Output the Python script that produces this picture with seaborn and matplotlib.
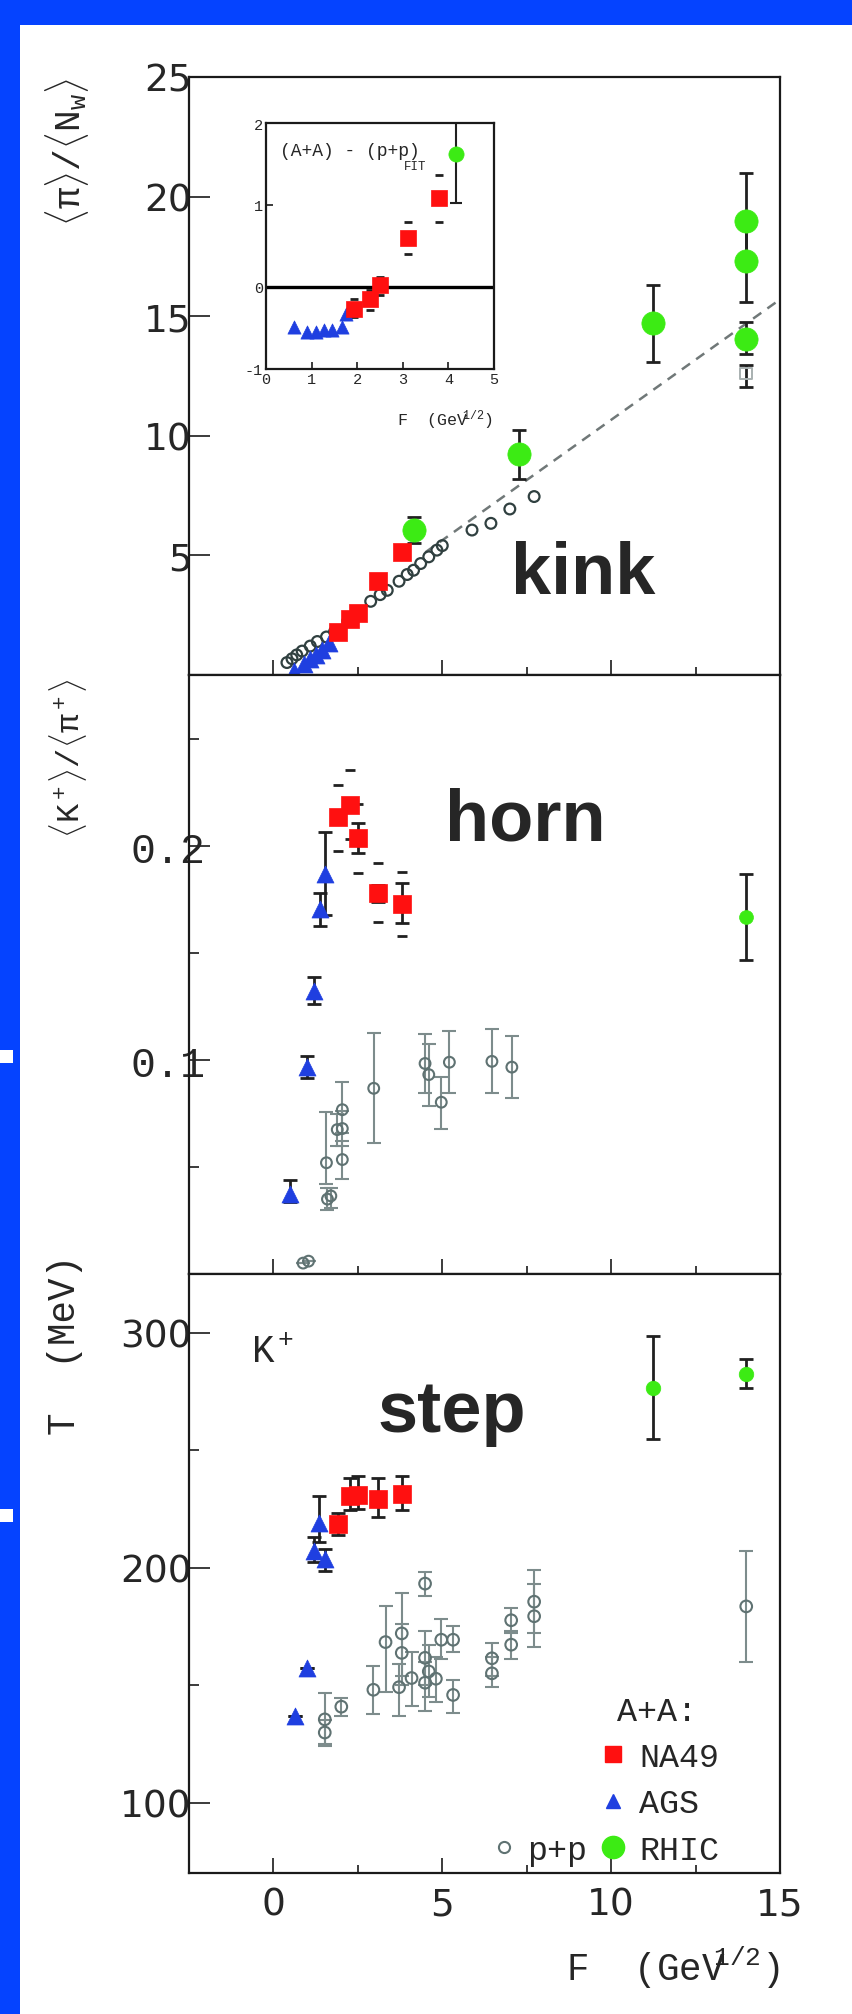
import numpy as np
import pandas as pd
import matplotlib
matplotlib.use("Agg")
import matplotlib.pyplot as plt
import seaborn as sns
from matplotlib.lines import Line2D
from matplotlib.patches import Rectangle

# ---------------- data ----------------
# top panel: <pi>/<N_w>
na49_F = [1.92, 2.28, 2.49, 3.11, 3.80]
na49_pi = [1.81, 2.33, 2.61, 3.92, 5.13]

ags_pi_F = [0.62, 0.91, 1.09, 1.27, 1.45, 1.66]
ags_pi = [0.18, 0.45, 0.65, 0.85, 1.05, 1.35]

rhic_pi_F = [4.15, 7.28, 11.23, 14.0, 14.0, 14.0]
rhic_pi = [6.06, 9.23, 14.7, 19.0, 17.3, 14.05]
rhic_pi_lo = [5.5, 8.2, 13.1, 17.2, 15.6, 13.4]
rhic_pi_hi = [6.62, 10.26, 16.29, 21.0, 19.1, 14.75]

other_pi_F = [14.0]
other_pi = [12.6]
other_pi_lo = [12.03]
other_pi_hi = [12.97]

pp_pi_F = [0.40, 0.55, 0.69, 0.85, 1.09, 1.30, 1.57, 1.81, 2.2, 2.5, 2.88, 3.16,
           3.37, 3.72, 3.96, 4.15, 4.36, 4.60, 4.84, 5.00, 5.88, 6.44, 7.00, 7.72]
pp_pi = [0.52, 0.68, 0.84, 1.00, 1.21, 1.40, 1.59, 1.81, 2.25, 2.6, 3.08, 3.36,
         3.54, 3.92, 4.20, 4.38, 4.66, 4.94, 5.22, 5.41, 6.06, 6.34, 6.94, 7.46]

fit_F = [4.5, 15.0]
fit_pi = [5.13, 15.7]

# inset: (A+A) - (p+p)_FIT
ins_ags_F = [0.62, 0.91, 1.09, 1.27, 1.45, 1.66, 1.75]
ins_ags = [-0.49, -0.55, -0.55, -0.53, -0.52, -0.49, -0.33]
ins_na49 = [-0.27, -0.15, 0.02, 0.60, 1.09]
ins_na49_sys_lo = [-0.36, -0.28, -0.10, 0.40, 0.79]
ins_na49_sys_hi = [-0.15, -0.04, 0.12, 0.79, 1.36]
ins_rhic_F = [4.16]
ins_rhic = [1.62]
ins_rhic_lo = [1.02]
ins_rhic_hi = [2.2]

# middle panel: <K+>/<pi+>
na49_k = [0.2135, 0.219, 0.2039, 0.178, 0.173]
na49_k_lo = [0.2105, 0.216, 0.197, 0.174, 0.164]
na49_k_hi = [0.2165, 0.222, 0.211, 0.182, 0.183]
na49_k_sys_lo = [0.1977, 0.2035, 0.1876, 0.1644, 0.158]
na49_k_sys_hi = [0.2286, 0.2354, 0.2199, 0.192, 0.188]

ags_k_F = [0.5, 1.0, 1.2, 1.37, 1.53]
ags_k = [0.0375, 0.0967, 0.1323, 0.1706, 0.187]
ags_k_lo = [0.0336, 0.0917, 0.1261, 0.1629, 0.168]
ags_k_hi = [0.0439, 0.1019, 0.1387, 0.1783, 0.2064]

rhic_k_F = [14.0]
rhic_k = [0.1667]
rhic_k_lo = [0.147]
rhic_k_hi = [0.187]

pp_k_F = [0.88, 1.04, 1.57, 1.60, 1.70, 1.89, 2.04, 2.04, 2.04, 2.97,
          4.49, 4.60, 4.97, 5.21, 6.47, 7.06]
pp_k = [0.0051, 0.0060, 0.052, 0.035, 0.0365, 0.0675, 0.0768, 0.068, 0.0535, 0.0868,
        0.0984, 0.0932, 0.0803, 0.099, 0.0994, 0.0967]
pp_k_lo = [0.0051, 0.0060, 0.042, 0.030, 0.031, 0.060, 0.066, 0.060, 0.0445, 0.0613,
           0.0846, 0.0785, 0.0679, 0.0845, 0.0845, 0.0824]
pp_k_hi = [0.0051, 0.0060, 0.0755, 0.040, 0.040, 0.075, 0.0899, 0.076, 0.062, 0.1126,
           0.1123, 0.1074, 0.0923, 0.1135, 0.1145, 0.1112]

# bottom panel: T (MeV)
na49_T = [218.6, 230.7, 231.1, 229.2, 231.3]
na49_T_lo = [214.0, 224.5, 225.0, 221.7, 224.5]
na49_T_hi = [223.4, 238.0, 239.0, 238.0, 239.0]

ags_T_F = [0.65, 1.0, 1.2, 1.36, 1.53]
ags_T = [137.0, 157.2, 207.2, 219.2, 203.6]
ags_T_lo = [137.0, 157.2, 202.6, 211.0, 198.4]
ags_T_hi = [137.0, 157.2, 213.0, 230.7, 207.8]

rhic_T_F = [11.23, 14.0]
rhic_T = [276.5, 282.3]
rhic_T_lo = [254.6, 276.5]
rhic_T_hi = [298.8, 289.0]

pp_T_F = [1.52, 1.52, 2.01, 2.96, 3.32, 3.72, 3.80, 3.80, 4.09, 4.49, 4.49, 4.49,
          4.60, 4.81, 4.97, 5.32, 5.32, 6.47, 6.47, 7.04, 7.04, 7.72, 7.72, 14.0]
pp_T = [135.4, 129.8, 140.8, 148.0, 168.3, 149.1, 172.0, 163.7, 153.0, 193.2, 161.6, 151.0,
        155.8, 152.7, 169.3, 169.3, 145.8, 161.4, 155.0, 177.6, 167.2, 185.5, 179.3, 183.5]
pp_T_lo = [125.0, 124.0, 137.0, 137.5, 147.0, 137.0, 154.0, 150.0, 141.0, 188.0, 150.0, 139.0,
           145.0, 143.0, 161.0, 164.0, 138.0, 154.0, 149.0, 172.0, 161.0, 172.0, 166.0, 160.0]
pp_T_hi = [146.5, 135.0, 144.5, 158.0, 183.5, 159.0, 189.0, 176.0, 164.0, 198.0, 173.0, 160.0,
           167.0, 162.0, 178.0, 175.0, 152.0, 168.0, 162.0, 183.0, 173.0, 199.0, 193.0, 207.2]

# ---------------- style ----------------
sns.set_theme(style="white")
plt.rcParams["font.family"] = ["DejaVu Sans"]
plt.rcParams["mathtext.fontset"] = "custom"
plt.rcParams["mathtext.rm"] = "Liberation Mono"
plt.rcParams["mathtext.it"] = "Liberation Mono"
plt.rcParams["mathtext.bf"] = "Liberation Mono:bold"

MONO = "Liberation Mono"
RED = "#ff1010"
BLUE = "#1f3fe0"
GREEN = "#3ceb14"
PP_EDGE = "#5f7272"
PP_ERR = "#7d8c8c"
BORDER = "#0543ff"
SPINE = "#1a1a1a"

W, H = 852, 2015
fig = plt.figure(figsize=(W / 100, H / 100), dpi=100, facecolor=BORDER)
fig.add_artist(Rectangle((20 / W, 0), 1 - 20 / W, 1 - 26 / H, transform=fig.transFigure,
                         facecolor="white", edgecolor="none", zorder=-5))
for ym in (1064, 1523):
    fig.add_artist(Rectangle((0, 1 - ym / H), 13 / W, 13 / H, transform=fig.transFigure,
                             facecolor="white", edgecolor="none", zorder=-4))

L, AW = 189 / W, 591 / W
ax1 = fig.add_axes([L, 1 - 676 / H, AW, 598 / H])
ax2 = fig.add_axes([L, 1 - 1275 / H, AW, 599 / H])
ax3 = fig.add_axes([L, 1 - 1874 / H, AW, 599 / H])


def errs(ax, x, y, lo, hi, color, lw=1.8, cap=5, z=2):
    y = np.asarray(y, float)
    yerr = [y - np.asarray(lo, float), np.asarray(hi, float) - y]
    ax.errorbar(x, y, yerr=yerr, fmt="none", ecolor=color, elinewidth=lw,
                capsize=cap, capthick=lw, zorder=z)


def points(ax, x, y, marker, color, size, open_=False, lw=1.5, z=3):
    df = pd.DataFrame({"F": x, "v": y})
    if open_:
        sns.scatterplot(data=df, x="F", y="v", ax=ax, marker=marker, s=size,
                        facecolor="none", edgecolor=color, linewidth=lw, legend=False, zorder=z)
    else:
        sns.scatterplot(data=df, x="F", y="v", ax=ax, marker=marker, s=size,
                        color=color, edgecolor=color, linewidth=0.5, legend=False, zorder=z)


for ax in (ax1, ax2, ax3):
    ax.set_xlim(-2.5, 15)
    ax.set_xticks([0, 5, 10, 15])
    ax.set_xticks([2.5, 7.5, 12.5], minor=True)
    for sp in ax.spines.values():
        sp.set_linewidth(1.6)
        sp.set_color(SPINE)
    ax.tick_params(which="both", direction="in", top=False, right=False,
                   left=True, bottom=True, color=SPINE)
    ax.tick_params(axis="x", which="major", length=11, width=1.2, pad=10, labelsize=27)
    ax.tick_params(axis="x", which="minor", length=6, width=1.2)
    ax.tick_params(axis="y", which="major", length=15, width=1.2, pad=-2, labelsize=27)
    ax.tick_params(axis="y", which="minor", length=7.5, width=1.2)
    ax.set_xlabel("")
    ax.set_ylabel("")
ax1.tick_params(axis="x", labelbottom=False)
ax2.tick_params(axis="x", labelbottom=False)

# ---------------- top panel ----------------
ax1.set_ylim(0, 25)
ax1.set_yticks([5, 10, 15, 20, 25])
sns.lineplot(x=fit_F, y=fit_pi, ax=ax1, color="#707878", linestyle=(0, (4, 3)),
             linewidth=1.8, zorder=1)
points(ax1, pp_pi_F, pp_pi, "o", "#304040", 60, open_=True, lw=1.6)
errs(ax1, rhic_pi_F, rhic_pi, rhic_pi_lo, rhic_pi_hi, "#202020", lw=2)
errs(ax1, other_pi_F, other_pi, other_pi_lo, other_pi_hi, "#202020", lw=2)
points(ax1, other_pi_F, other_pi, "s", "#a8b0b0", 70, open_=True, lw=1.4)
points(ax1, ags_pi_F, ags_pi, "^", BLUE, 150)
points(ax1, na49_F, na49_pi, "s", RED, 170)
points(ax1, rhic_pi_F, rhic_pi, "o", GREEN, 280, z=4)
ax1.text(7.04, 3.43, "kink", fontsize=52, fontweight="bold", family="Liberation Sans",
         ha="left", va="baseline")
ax1.set_ylabel(r"$\langle\pi\rangle/\langle N_w\rangle$", fontsize=26, loc="top")
ax1.yaxis.set_label_coords(-0.165, 1.0)

# inset
axi = fig.add_axes([266 / W, 1 - 370 / H, 228 / W, 246 / H])
axi.set_xlim(0, 5)
axi.set_ylim(-1, 2)
axi.set_xticks([0, 1, 2, 3, 4, 5])
axi.set_yticks([-1, 0, 1, 2])
axi.set_yticklabels(["-1", "0", "1", "2"])
for sp in axi.spines.values():
    sp.set_linewidth(1.6)
    sp.set_color(SPINE)
axi.tick_params(which="both", direction="in", top=False, right=False, left=True,
                bottom=True, length=5, width=1.2, color=SPINE, labelsize=11, pad=2)
for lab in axi.get_xticklabels() + axi.get_yticklabels():
    lab.set_family(MONO)
axi.axhline(0, color="black", linewidth=2.4, zorder=1)
errs(axi, ins_rhic_F, ins_rhic, ins_rhic_lo, ins_rhic_hi, "#202020", lw=1.5, cap=4)
axi.scatter(na49_F, ins_na49_sys_lo, marker="_", s=40, color="#202020", linewidths=2, zorder=2)
axi.scatter(na49_F, ins_na49_sys_hi, marker="_", s=40, color="#202020", linewidths=2, zorder=2)
points(axi, ins_ags_F, ins_ags, "^", BLUE, 90)
points(axi, na49_F, ins_na49, "s", RED, 120)
points(axi, ins_rhic_F, ins_rhic, "o", GREEN, 120)
axi.set_xlabel("")
axi.set_ylabel("")
axi.text(0.3, 1.66, "(A+A) - (p+p)", fontsize=13, family=MONO, ha="left", va="center")
axi.text(3.03, 1.48, "FIT", fontsize=9, family=MONO, ha="left", va="center")
axi.text(0.785, -0.2, r"F  (GeV$^{\!\!\!\!1/2}$)", fontsize=12, family=MONO,
         ha="center", va="center", transform=axi.transAxes)

# ---------------- middle panel ----------------
ax2.set_ylim(0, 0.28)
ax2.set_yticks([0.1, 0.2])
ax2.set_yticks([0.05, 0.15, 0.25], minor=True)
ax2.set_yticklabels(["0.1", "0.2"])
ax2.tick_params(axis="y", which="major", pad=-12, labelsize=30)
for lab in ax2.get_yticklabels():
    lab.set_family(MONO)
errs(ax2, pp_k_F, pp_k, pp_k_lo, pp_k_hi, PP_ERR, lw=1.5, cap=5)
points(ax2, pp_k_F, pp_k, "o", PP_EDGE, 60, open_=True, lw=1.5)
errs(ax2, ags_k_F, ags_k, ags_k_lo, ags_k_hi, "#202020", lw=2)
errs(ax2, na49_F, na49_k, na49_k_lo, na49_k_hi, "#202020", lw=2)
errs(ax2, rhic_k_F, rhic_k, rhic_k_lo, rhic_k_hi, "#202020", lw=2)
ax2.scatter(na49_F, na49_k_sys_lo, marker="_", s=60, color="#202020", linewidths=2, zorder=2)
ax2.scatter(na49_F, na49_k_sys_hi, marker="_", s=60, color="#202020", linewidths=2, zorder=2)
points(ax2, ags_k_F, ags_k, "^", BLUE, 150)
points(ax2, na49_F, na49_k, "s", RED, 170)
points(ax2, rhic_k_F, rhic_k, "o", GREEN, 100)
ax2.set_xlabel("")
ax2.text(5.09, 0.2031, "horn", fontsize=52, fontweight="bold", family="Liberation Sans",
         ha="left", va="baseline")
ax2.set_ylabel(r"$\langle K^+\rangle/\langle\pi^+\rangle$", fontsize=23, loc="top")
ax2.yaxis.set_label_coords(-0.17, 0.995)

# ---------------- bottom panel ----------------
ax3.set_ylim(70, 325)
ax3.set_yticks([100, 200, 300])
ax3.set_yticks([150, 250], minor=True)
errs(ax3, pp_T_F, pp_T, pp_T_lo, pp_T_hi, PP_ERR, lw=1.5, cap=5)
points(ax3, pp_T_F, pp_T, "o", PP_EDGE, 70, open_=True, lw=1.5)
errs(ax3, ags_T_F, ags_T, ags_T_lo, ags_T_hi, "#202020", lw=2)
errs(ax3, na49_F, na49_T, na49_T_lo, na49_T_hi, "#202020", lw=2)
errs(ax3, rhic_T_F, rhic_T, rhic_T_lo, rhic_T_hi, "#202020", lw=2)
points(ax3, ags_T_F, ags_T, "^", BLUE, 150)
points(ax3, na49_F, na49_T, "s", RED, 170)
points(ax3, rhic_T_F, rhic_T, "o", GREEN, 110)
ax3.text(3.08, 258.0, "step", fontsize=52, fontweight="bold", family="Liberation Sans",
         ha="left", va="baseline")
ax3.text(-0.67, 292, r"K$^+$", fontsize=27, family=MONO, ha="left", va="center")
ax3.set_ylabel("T  (MeV)", fontsize=27, family=MONO, loc="top")
ax3.yaxis.set_label_coords(-0.18, 1.033)
ax3.set_xlabel(r"F  (GeV$^{\!\!\!\!1/2}$)", fontsize=27, family=MONO, loc="right")
ax3.xaxis.set_label_coords(1.0, -0.118)

# legends
h_na49 = Line2D([], [], marker="s", linestyle="none", color=RED, markersize=12)
h_ags = Line2D([], [], marker="^", linestyle="none", color=BLUE, markersize=10)
h_rhic = Line2D([], [], marker="o", linestyle="none", color=GREEN, markersize=16)
h_pp = Line2D([], [], marker="o", linestyle="none", markerfacecolor="none",
              markeredgecolor=PP_EDGE, markeredgewidth=1.5, markersize=8)
leg1 = ax3.legend([h_na49, h_ags, h_rhic], ["NA49", "AGS", "RHIC"], title=" A+A:",
                  loc="lower left", bbox_to_anchor=(0.690, 0.012), frameon=False,
                  prop={"family": MONO, "size": 24},
                  title_fontproperties={"family": MONO, "size": 24}, alignment="left",
                  handlelength=1.0, handletextpad=0.27, labelspacing=0.46, borderpad=0,
                  borderaxespad=0)
ax3.add_artist(leg1)
ax3.legend([h_pp], ["p+p"], loc="lower left", bbox_to_anchor=(0.516, 0.012), frameon=False,
           prop={"family": MONO, "size": 24}, handlelength=0.6, handletextpad=0.4,
           borderpad=0, borderaxespad=0)

fig.savefig("out.png", dpi=100, facecolor=fig.get_facecolor())
